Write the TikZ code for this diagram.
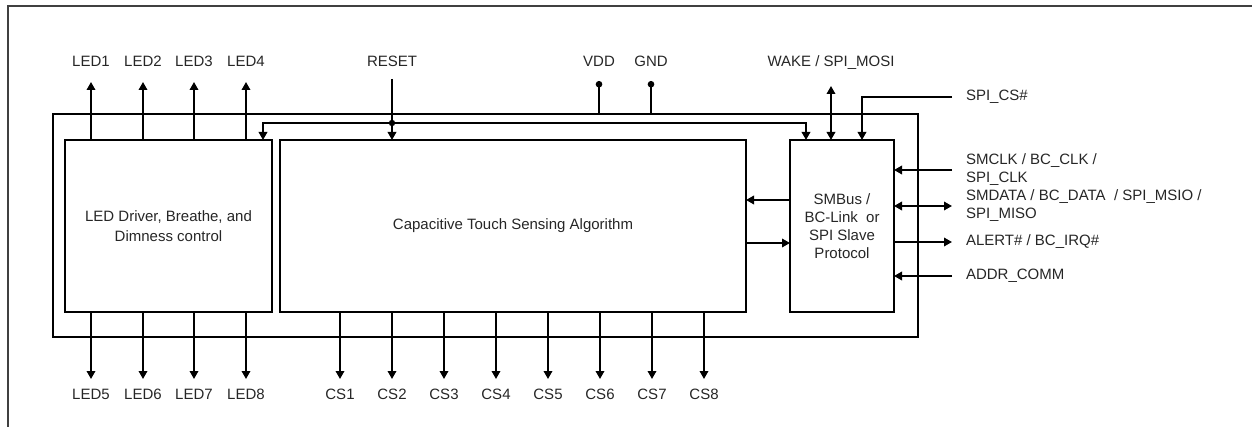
\documentclass[tikz,border=0pt]{standalone}
\usepackage{fontspec}
\setmainfont{Liberation Sans}
\usetikzlibrary{arrows.meta}

\begin{document}
\begin{tikzpicture}[x=1pt,y=-1pt,line width=1.8pt,
	every node/.style={inner sep=0pt,outer sep=0pt,text=black!85,font=\fontsize{15}{18}\selectfont},
	block/.style={draw,align=center,minimum height=172pt},
	toplbl/.style={anchor=base,text depth=0pt},
	botlbl/.style={anchor=base,text height=11pt},
	sidelbl/.style={anchor=west,align=left},
	arr/.style={-{Triangle[length=8pt,width=8.5pt]}},
	biarr/.style={{Triangle[length=8pt,width=8.5pt]}-{Triangle[length=8pt,width=8.5pt]}},
	pwr/.style={{Circle[length=6.5pt]}-}
]
\useasboundingbox (0,0) rectangle (1252,427);
\draw[black!75] (8,427) -- (8,6) -- (1252,6);

\node[draw,minimum width=865pt,minimum height=223pt] (chip) at (485.5,225.5) {};
\node[block,minimum width=207pt,font=\fontsize{15}{20}\selectfont] (led) at (168.5,226) {LED Driver, Breathe, and\\Dimness control};
\node[block,minimum width=466pt] (cts) at (513,226) {Capacitive Touch Sensing Algorithm};
\node[block,minimum width=104pt] (smb) at (842,226) {SMBus /\\BC-Link\ \ or\\SPI Slave\\Protocol};

\foreach \i/\x in {1/91,2/143,3/194,4/246} {
	\node[toplbl] (l\i) at (\x,67) {LED\i};
	\draw[arr,shorten >=15pt] (led.north -| l\i) -- (l\i.south);
}
\foreach \i/\x in {5/91,6/143,7/194,8/246} {
	\node[botlbl] (l\i) at (\x,399) {LED\i};
	\draw[arr,shorten >=9pt] (led.south -| l\i) -- (l\i.north);
}
\foreach \i in {1,...,8} {
	\node[botlbl] (cs\i) at ({288+52*\i},399) {CS\i};
	\draw[arr,shorten >=9pt] (cts.south -| cs\i) -- (cs\i.north);
}

\node[toplbl] (rst) at (392,67) {RESET};
\draw[arr,shorten <=12pt] (rst.south) -- (cts.north -| rst);
\coordinate (bus) at (392,123);
\draw[arr] (bus) -| ([xshift=-9pt]led.north east);
\draw[arr] (bus) -| ([xshift=16pt]smb.north west);
\fill (bus) circle (3.2pt);

\node[toplbl] (vdd) at (599,67) {VDD};
\node[toplbl] (gnd) at (651,67) {GND};
\foreach \n in {vdd,gnd}
	\draw[pwr,shorten <=14pt] (\n.south) -- (chip.north -| \n);

\node[toplbl] (wake) at (831,67) {WAKE / SPI\_MOSI};
\draw[biarr,shorten <=19pt] (wake.south) -- (smb.north -| wake);

\node[sidelbl] (spics) at (966,97) {SPI\_CS\#};
\draw[arr,shorten <=14pt] (spics.west) -| ([xshift=72pt]smb.north west);

\node[sidelbl] (smclk) at (966,170) {SMCLK / BC\_CLK /\\SPI\_CLK};
\node[sidelbl] (smdat) at (966,206) {SMDATA / BC\_DATA\ \ / SPI\_MSIO /\\SPI\_MISO};
\node[sidelbl] (alert) at (966,242) {ALERT\# / BC\_IRQ\#};
\node[sidelbl] (addr) at (966,276) {ADDR\_COMM};
\draw[arr,shorten <=14pt] (smclk.west) -- (smb.east |- smclk.west);
\draw[biarr,shorten <=14pt] (smdat.west) -- (smb.east |- smdat.west);
\draw[arr,shorten >=14pt] (smb.east |- alert.west) -- (alert.west);
\draw[arr,shorten <=14pt] (addr.west) -- (smb.east |- addr.west);

\draw[arr] ([yshift=26pt]smb.west) -- ([yshift=26pt]cts.east);
\draw[arr] ([yshift=-17pt]cts.east) -- ([yshift=-17pt]smb.west);
\end{tikzpicture}
\end{document}
